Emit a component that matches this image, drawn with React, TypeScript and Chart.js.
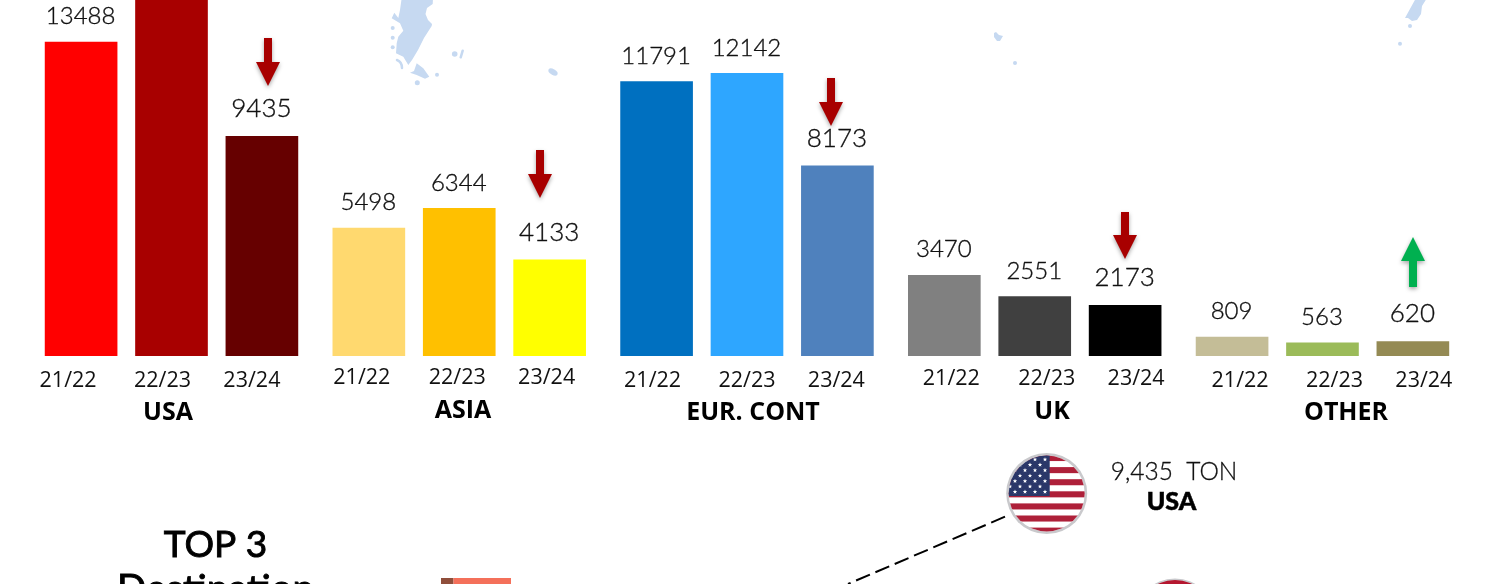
import React, { useEffect, useRef } from "react";
import { Chart, registerables } from "chart.js";

Chart.register(...registerables);

// ---- data ----
const groups = ["USA", "ASIA", "EUR. CONT", "UK", "OTHER"];
const seasons = ["21/22", "22/23", "23/24"];
const usa = [13488, 15800, 9435];
const asia = [5498, 6344, 4133];
const eur = [11791, 12142, 8173];
const uk = [3470, 2551, 2173];
const other = [809, 563, 620];
const seriesByGroup = [usa, asia, eur, uk, other];
const barColors = [
  "#FF0000", "#A80000", "#660000",
  "#FFD96F", "#FFC000", "#FFFF00",
  "#0070C0", "#2EA6FF", "#4F81BD",
  "#808080", "#404040", "#000000",
  "#C4BD97", "#9BBB59", "#948A54",
];
const topDestinationValue = "9,435  TON";
const topDestinationName = "USA";

// ---- layout ----
const W = 1498;
const H = 584;
const BASE_Y = 356;
const UNITS_PER_PX = 13488 / 314;
const SLOT_PX = 90.4;
const FIRST_X = 81.1;
const GROUP_PITCH = 3.183;
const tickDx = [-13, -9, -10, -7, -2, -3, -4, 0, -1, 7, 12, 11, 8, 12, 11];
const tickY = [380.5, 377.5, 380.5, 378.5, 380.5];
const groupLabelPos: [number, number][] = [[168, 413], [463, 411], [753, 413], [1052, 412], [1346, 413]];
const bigValueLabels = [9435, 4133, 8173, 2173, 620];
const downArrows: [number, number, number][] = [[268, 38, 86], [540, 150, 198], [831, 78, 126], [1125, 212, 259]];
const upArrow: [number, number, number] = [1413, 237, 287];

const barPoints = seriesByGroup.flatMap((vals, g) =>
  vals.map((v, b) => ({ x: g * GROUP_PITCH + b, y: v }))
);

function arrow(ctx: CanvasRenderingContext2D, cx: number, tail: number, tip: number, color: string) {
  const dir = tip > tail ? 1 : -1;
  const neck = tip - dir * 24;
  ctx.save();
  ctx.shadowColor = "rgba(0,0,0,0.35)";
  ctx.shadowBlur = 4;
  ctx.shadowOffsetY = 2;
  ctx.fillStyle = color;
  ctx.beginPath();
  ctx.moveTo(cx - 4, tail);
  ctx.lineTo(cx + 4, tail);
  ctx.lineTo(cx + 4, neck);
  ctx.lineTo(cx + 12, neck);
  ctx.lineTo(cx, tip);
  ctx.lineTo(cx - 12, neck);
  ctx.lineTo(cx - 4, neck);
  ctx.closePath();
  ctx.fill();
  ctx.restore();
}

function poly(ctx: CanvasRenderingContext2D, pts: number[][]) {
  ctx.beginPath();
  pts.forEach((p, i) => (i === 0 ? ctx.moveTo(p[0], p[1]) : ctx.lineTo(p[0], p[1])));
  ctx.closePath();
  ctx.fill();
}

function dot(ctx: CanvasRenderingContext2D, x: number, y: number, r: number) {
  ctx.beginPath();
  ctx.arc(x, y, r, 0, Math.PI * 2);
  ctx.fill();
}

function drawMap(ctx: CanvasRenderingContext2D) {
  ctx.save();
  ctx.fillStyle = "#C6D9F1";
  ctx.strokeStyle = "#C6D9F1";
  poly(ctx, [
    [401.7, -2], [400, 10], [398.3, 18], [394.3, 12.7], [391.7, 18.3], [400, 23.3], [403.3, 30.7],
    [398.3, 36.7], [396.7, 43.3], [396, 53.3], [403.3, 56.7], [408.3, 65], [412, 60], [418, 50], [424, 38],
    [431.7, 26], [432, 24], [428, 20], [425.5, 14], [427, 8], [432.7, 4], [433, -2],
  ]);
  poly(ctx, [[410, 72.7], [414, 71], [416.7, 63.3], [423.3, 68.3], [429.3, 76.7], [425, 78.7], [416.7, 75]]);
  ctx.lineWidth = 2.5;
  ctx.lineCap = "round";
  ctx.beginPath();
  ctx.moveTo(397, 60);
  ctx.quadraticCurveTo(402, 62, 402, 68);
  ctx.stroke();
  ctx.beginPath();
  ctx.moveTo(462.7, 50.7);
  ctx.lineTo(460.7, 57.3);
  ctx.stroke();
  [[392.7, 28, 2], [392.7, 37.7, 2], [392.7, 47.3, 2], [417.3, 82.7, 2.5], [437, 74.7, 2], [454.7, 54, 2.8], [1015, 63, 2], [1410, 26, 2], [1400, 43.7, 2]].forEach(
    (d) => dot(ctx, d[0], d[1], d[2])
  );
  poly(ctx, [[994, 33], [996, 32], [999, 35], [1003, 36], [1000, 41], [997, 41], [994, 37]]);
  ctx.beginPath();
  ctx.ellipse(553, 72, 5, 2.8, 0.5, 0, Math.PI * 2);
  ctx.fill();
  poly(ctx, [[1416, -2], [1427, -2], [1422, 6], [1421, 14], [1417, 20], [1412, 21], [1408, 18], [1405, 18]]);
  ctx.restore();
}

function star(ctx: CanvasRenderingContext2D, x: number, y: number, r: number) {
  ctx.beginPath();
  for (let i = 0; i < 10; i++) {
    const a = -Math.PI / 2 + (i * Math.PI) / 5;
    const rr = i % 2 ? r * 0.42 : r;
    ctx.lineTo(x + rr * Math.cos(a), y + rr * Math.sin(a));
  }
  ctx.closePath();
  ctx.fill();
}

function drawFlag(ctx: CanvasRenderingContext2D) {
  const cx = 1046.7;
  const cy = 493.5;
  ctx.save();
  ctx.fillStyle = "#C9C9CC";
  dot(ctx, cx, cy, 40.5);
  ctx.beginPath();
  ctx.arc(cx, cy, 38, 0, Math.PI * 2);
  ctx.clip();
  ctx.fillStyle = "#FFFFFF";
  ctx.fillRect(cx - 40, cy - 40, 80, 80);
  ctx.fillStyle = "#AE2039";
  for (let i = 0; i < 13; i += 2) ctx.fillRect(cx - 40, 455 + i * 6.05, 80, 6.05);
  ctx.fillStyle = "#2A3769";
  ctx.fillRect(cx - 40, 455, 43, 41);
  ctx.fillStyle = "#FFFFFF";
  for (let r = 0; r < 7; r++) {
    for (let c = 0; c < 5; c++) {
      const sx = r % 2 ? 1010 + c * 10 : 1005 + c * 10;
      if (sx < 1048) star(ctx, sx, 459.5 + r * 5.4, 2.3);
    }
  }
  ctx.restore();

  ctx.save();
  ctx.fillStyle = "#C9C9CC";
  dot(ctx, 1175, 619, 40.5);
  ctx.fillStyle = "#B5172F";
  dot(ctx, 1175, 619, 39);
  ctx.restore();
}

const overlay = {
  id: "overlay",
  beforeDatasetsDraw(chart: any) {
    drawMap(chart.ctx);
  },
  afterDatasetsDraw(chart: any) {
    const ctx: CanvasRenderingContext2D = chart.ctx;
    const xs = chart.scales.x;
    const ys = chart.scales.y;
    ctx.save();
    ctx.textAlign = "center";
    ctx.textBaseline = "middle";

    // value labels
    barPoints.forEach((p) => {
      const big = bigValueLabels.includes(p.y);
      ctx.font = `300 ${big ? 26 : 24}px Lato, sans-serif`;
      ctx.fillStyle = "#111111";
      ctx.strokeStyle = "#111111";
      ctx.lineWidth = 0.35;
      const px = xs.getPixelForValue(p.x) - 0.5;
      const py = ys.getPixelForValue(p.y) - (big ? 27.5 : 25.5);
      ctx.fillText(String(p.y), px, py);
      ctx.strokeText(String(p.y), px, py);
    });

    // season tick labels
    ctx.font = "21.5px 'Open Sans', sans-serif";
    ctx.fillStyle = "#111111";
    barPoints.forEach((p, i) => {
      const g = Math.floor(i / 3);
      ctx.fillText(seasons[i % 3], xs.getPixelForValue(p.x) + tickDx[i], tickY[g]);
    });

    // group labels
    ctx.font = "bold 25px 'Open Sans', sans-serif";
    ctx.fillStyle = "#000000";
    groups.forEach((g, i) => ctx.fillText(g, groupLabelPos[i][0], groupLabelPos[i][1]));
    ctx.restore();

    downArrows.forEach((a) => arrow(ctx, a[0], a[1], a[2], "#A80000"));
    arrow(ctx, upArrow[0], upArrow[2], upArrow[1], "#00B050");

    // lower panel
    ctx.save();
    ctx.strokeStyle = "#000000";
    ctx.lineWidth = 2;
    ctx.setLineDash([15, 6]);
    ctx.beginPath();
    ctx.moveTo(1005, 516.7);
    ctx.lineTo(848, 584);
    ctx.stroke();
    ctx.setLineDash([]);
    ctx.restore();

    drawFlag(ctx);

    ctx.save();
    ctx.fillStyle = "#8F4E3B";
    ctx.fillRect(441, 578, 12.5, 6);
    ctx.fillStyle = "#F4705A";
    ctx.fillRect(453.5, 578, 57.5, 6);

    ctx.textAlign = "center";
    ctx.textBaseline = "alphabetic";
    ctx.fillStyle = "#000000";
    ctx.strokeStyle = "#000000";
    ctx.lineWidth = 0.9;
    ctx.font = "400 37px Lato, sans-serif";
    ctx.fillText("TOP 3", 215.5, 556.5);
    ctx.strokeText("TOP 3", 215.5, 556.5);
    ctx.font = "400 38.5px Lato, sans-serif";
    ctx.fillText("Destination", 215.5, 602);
    ctx.strokeText("Destination", 215.5, 602);

    ctx.textBaseline = "middle";
    ctx.font = "300 24.5px Lato, sans-serif";
    ctx.fillStyle = "#111111";
    ctx.strokeStyle = "#111111";
    ctx.lineWidth = 0.3;
    ctx.fillText(topDestinationValue, 1174, 472);
    ctx.strokeText(topDestinationValue, 1174, 472);
    ctx.font = "900 25px Lato, sans-serif";
    ctx.fillStyle = "#000000";
    ctx.strokeStyle = "#000000";
    ctx.lineWidth = 0.5;
    ctx.fillText(topDestinationName, 1171.5, 501.5);
    ctx.strokeText(topDestinationName, 1171.5, 501.5);
    ctx.restore();
  },
};

export default function App() {
  const ref = useRef<HTMLCanvasElement>(null);
  useEffect(() => {
    document.body.style.margin = "0";
    const chart = new Chart(ref.current as HTMLCanvasElement, {
      type: "bar",
      data: {
        datasets: [
          {
            data: barPoints,
            backgroundColor: barColors,
            borderWidth: 0,
            barThickness: 72,
          } as any,
        ],
      },
      options: {
        animation: false,
        responsive: false,
        maintainAspectRatio: false,
        layout: { padding: { left: 0, right: 0, top: 0, bottom: H - BASE_Y } },
        plugins: { legend: { display: false }, tooltip: { enabled: false } },
        scales: {
          x: {
            type: "linear",
            display: false,
            offset: false,
            min: -FIRST_X / SLOT_PX,
            max: (W - FIRST_X) / SLOT_PX,
            grid: { display: false },
          },
          y: {
            display: false,
            min: 0,
            max: BASE_Y * UNITS_PER_PX,
            grid: { display: false },
          },
        },
      },
      plugins: [overlay],
    });
    return () => chart.destroy();
  }, []);
  return <canvas ref={ref} width={W} height={H} style={{ display: "block" }} />;
}
